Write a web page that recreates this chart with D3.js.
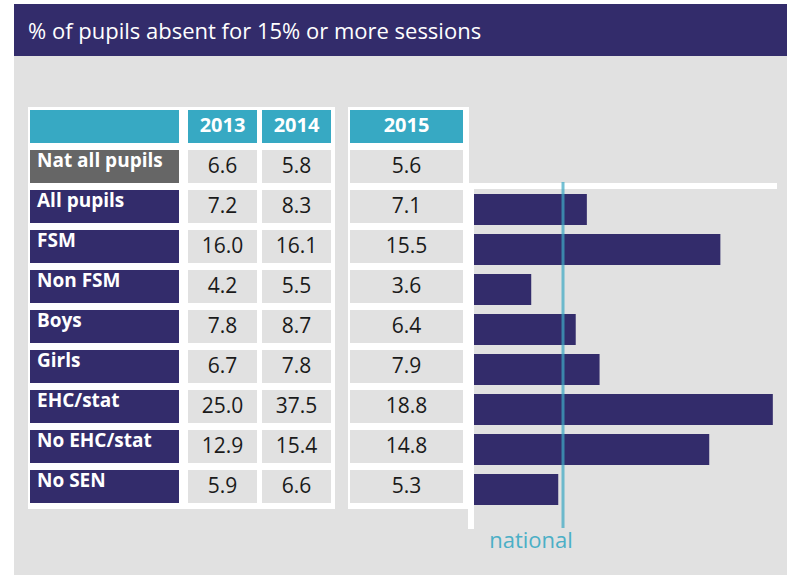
<!DOCTYPE html>
<html lang="en">

<head>
    <meta charset="utf-8">
    <title>Persistent absence</title>
    <script src="https://d3js.org/d3.v7.min.js"></script>
</head>
<style type="text/css">
    body {
        margin: 0;
        background: #fff;
    }

    .title {
        fill: #fff;
        font-family: "Open Sans", sans-serif;
        font-size: 22px;
    }

    .label {
        fill: #fff;
        font-family: "Open Sans", sans-serif;
        font-weight: bold;
        font-size: 19px;
    }

    .year {
        fill: #fff;
        font-family: "Open Sans", sans-serif;
        font-weight: bold;
        font-size: 20px;
        text-anchor: middle;
    }

    .value {
        fill: #1a1a1a;
        font-family: "Open Sans", sans-serif;
        font-size: 21px;
        text-anchor: middle;
    }

    .national {
        fill: #4bafc6;
        font-family: "Open Sans", sans-serif;
        font-size: 22px;
        text-anchor: middle;
    }
</style>

<body>
    <script>
        var width = 787,
            height = 575;

        var categories = ["Nat all pupils", "All pupils", "FSM", "Non FSM", "Boys", "Girls", "EHC/stat", "No EHC/stat", "No SEN"];
        var years = ["2013", "2014", "2015"];
        var v2013 = [6.6, 7.2, 16.0, 4.2, 7.8, 6.7, 25.0, 12.9, 5.9];
        var v2014 = [5.8, 8.3, 16.1, 5.5, 8.7, 7.8, 37.5, 15.4, 6.6];
        var v2015 = [5.6, 7.1, 15.5, 3.6, 6.4, 7.9, 18.8, 14.8, 5.3];
        var nationalValue = v2015[0];

        var purple = "#332c6b",
            teal = "#37a9c3",
            grey = "#e1e1e1";

        var svg = d3.select("body").append("svg")
            .attr("width", width)
            .attr("height", height);

        //Title bar and background

        svg.append("rect")
            .attr("x", 14).attr("y", 56)
            .attr("width", width - 14).attr("height", height - 56)
            .attr("fill", grey);

        svg.append("rect")
            .attr("x", 14).attr("y", 4)
            .attr("width", width - 14).attr("height", 52)
            .attr("fill", purple);

        svg.append("text")
            .attr("class", "title")
            .attr("x", 28).attr("y", 39)
            .text("% of pupils absent for 15% or more sessions");

        //Row scale: header + one row per category

        var rows = ["header"].concat(categories);

        var y = d3.scaleBand()
            .domain(rows)
            .range([110, 503])
            .paddingInner(0.175)
            .paddingOuter(0);

        // table columns: label, 2013, 2014 | 2015
        var cols = [
            { key: "label", x: 30, w: 149 },
            { key: years[0], x: 188, w: 69, vals: v2013 },
            { key: years[1], x: 262, w: 69, vals: v2014 },
            { key: years[2], x: 350, w: 113, vals: v2015 }
        ];

        //White panels behind the table

        svg.append("rect")
            .attr("x", 28).attr("y", 107)
            .attr("width", 307).attr("height", 402)
            .attr("fill", "#fff");

        svg.append("rect")
            .attr("x", 348).attr("y", 107)
            .attr("width", 121).attr("height", 402)
            .attr("fill", "#fff");

        //Header row

        cols.forEach(function(c) {
            svg.append("rect")
                .attr("x", c.x).attr("y", y("header"))
                .attr("width", c.w).attr("height", y.bandwidth())
                .attr("fill", teal);
            if (c.vals) {
                svg.append("text")
                    .attr("class", "year")
                    .attr("x", c.x + c.w / 2)
                    .attr("y", y("header") + 22)
                    .text(c.key);
            }
        });

        //Label cells

        svg.selectAll("rect.labelcell")
            .data(categories)
            .enter().append("rect")
            .attr("class", "labelcell")
            .attr("x", cols[0].x)
            .attr("y", function(d) { return y(d); })
            .attr("width", cols[0].w)
            .attr("height", y.bandwidth())
            .attr("fill", function(d, i) { return i == 0 ? "#666666" : purple; });

        svg.selectAll("text.label")
            .data(categories)
            .enter().append("text")
            .attr("class", "label")
            .attr("x", cols[0].x + 7)
            .attr("y", function(d) { return y(d) + 17; })
            .text(function(d) { return d; });

        //Value cells

        cols.slice(1).forEach(function(c) {
            svg.selectAll("rect.cell" + c.key)
                .data(c.vals)
                .enter().append("rect")
                .attr("class", "cell" + c.key)
                .attr("x", c.x)
                .attr("y", function(d, i) { return y(categories[i]); })
                .attr("width", c.w)
                .attr("height", y.bandwidth())
                .attr("fill", grey);

            svg.selectAll("text.val" + c.key)
                .data(c.vals)
                .enter().append("text")
                .attr("class", "value val" + c.key)
                .attr("x", c.x + c.w / 2)
                .attr("y", function(d, i) { return y(categories[i]) + 23; })
                .text(function(d) { return d3.format(".1f")(d); });
        });

        //Bars for 2015

        var x = d3.scaleLinear()
            .domain([0, 19])
            .range([474, 776]);

        // white axis lines
        svg.append("rect")
            .attr("x", 463).attr("y", 183)
            .attr("width", 314).attr("height", 6)
            .attr("fill", "#fff");

        svg.append("rect")
            .attr("x", 468).attr("y", 183)
            .attr("width", 6).attr("height", 346)
            .attr("fill", "#fff");

        var barData = categories.slice(1).map(function(c, i) {
            return { cat: c, value: v2015[i + 1] };
        });

        svg.selectAll("rect.bar")
            .data(barData)
            .enter().append("rect")
            .attr("class", "bar")
            .attr("x", x(0))
            .attr("y", function(d) { return y(d.cat) + 4; })
            .attr("width", function(d) { return x(d.value) - x(0); })
            .attr("height", 31)
            .attr("fill", purple);

        //National reference line

        svg.append("line")
            .attr("x1", x(nationalValue)).attr("x2", x(nationalValue))
            .attr("y1", 182).attr("y2", 528)
            .attr("stroke", "#3ea9c4")
            .attr("stroke-opacity", 0.72)
            .attr("stroke-width", 3);

        svg.append("text")
            .attr("class", "national")
            .attr("x", x(nationalValue) - 32)
            .attr("y", 548)
            .text("national");
    </script>
</body>

</html>
